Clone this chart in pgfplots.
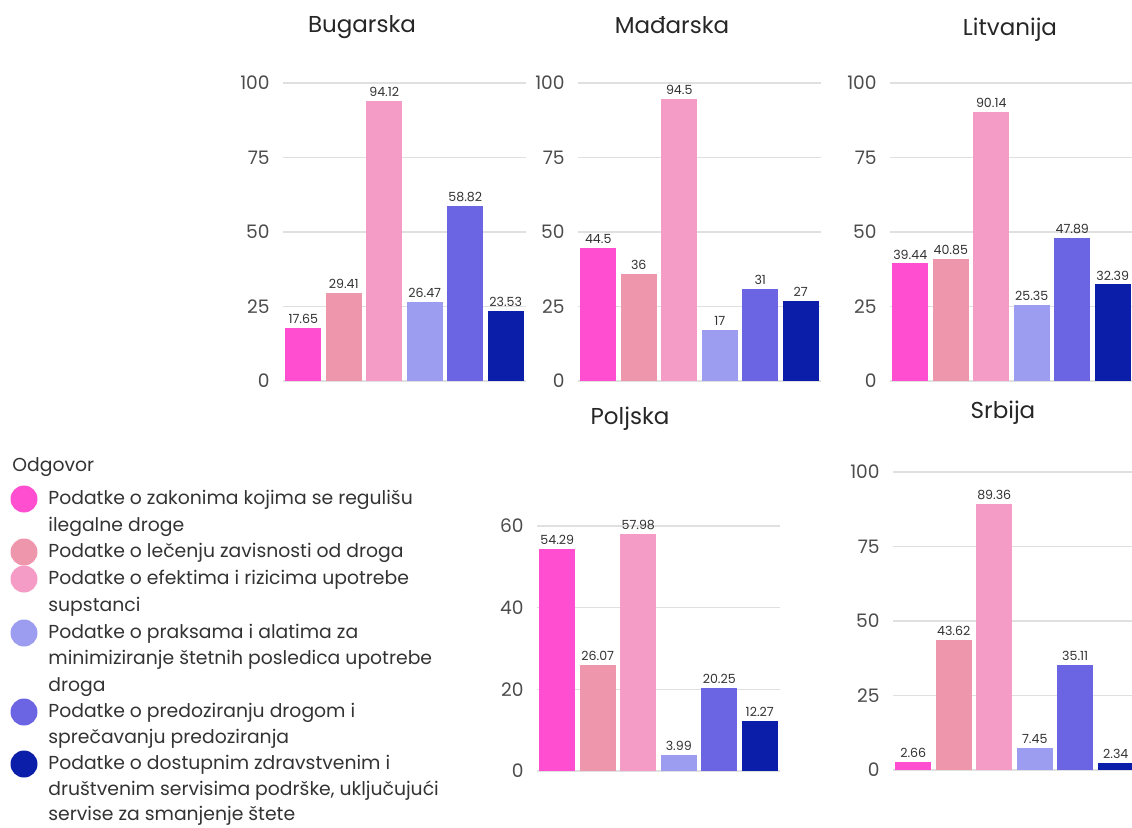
\documentclass[border=0pt]{standalone}
\usepackage{fontspec}
\setmainfont{Poppins}
\usepackage{pgfplots}
\pgfplotsset{compat=1.18}

\definecolor{c1}{HTML}{FF4FD0}
\definecolor{c2}{HTML}{EE97AC}
\definecolor{c3}{HTML}{F49CC6}
\definecolor{c4}{HTML}{9C9CF0}
\definecolor{c5}{HTML}{6B64E3}
\definecolor{c6}{HTML}{0A1EAA}
\definecolor{txt}{HTML}{333333}

\pgfplotsset{
  panel/.style={
    scale only axis, anchor=south west,
    width=121.5pt, height=149pt,
    xmin=-0.5, xmax=5.5, ymin=0, ymax=100,
    ytick={0,25,50,75,100},
    xtick=\empty,
    ymajorgrids, grid style={draw=black!12, line width=0.6pt},
    axis line style={draw=none},
    major tick length=0pt,
    /pgf/number format/assume math mode=true,
    yticklabel style={font=\fontsize{9.3}{10}\selectfont, text=black!70, anchor=east, inner sep=0pt, xshift=-6.5pt},
    nodes near coords,
    every node near coord/.append style={font=\fontsize{6.3}{7}\selectfont, text=txt, inner sep=2pt},
    clip=false,
  },
  b/.style={ybar, bar width=0.89, bar shift=0pt, draw=none, fill=#1},
}

\begin{document}
\begin{tikzpicture}[x=0.5pt, y=-0.5pt]
\path[use as bounding box] (0,0) rectangle (1132,827);

% Bugarska
\begin{axis}[panel, at={(141.5pt,-190.5pt)}]
\addplot[b=c1] coordinates {(0,17.65)};
\addplot[b=c2] coordinates {(1,29.41)};
\addplot[b=c3] coordinates {(2,94.12)};
\addplot[b=c4] coordinates {(3,26.47)};
\addplot[b=c5] coordinates {(4,58.82)};
\addplot[b=c6] coordinates {(5,23.53)};
\end{axis}

% Madjarska
\begin{axis}[panel, at={(289pt,-190.5pt)}]
\addplot[b=c1] coordinates {(0,44.5)};
\addplot[b=c2] coordinates {(1,36)};
\addplot[b=c3] coordinates {(2,94.5)};
\addplot[b=c4] coordinates {(3,17)};
\addplot[b=c5] coordinates {(4,31)};
\addplot[b=c6] coordinates {(5,27)};
\end{axis}

% Litvanija
\begin{axis}[panel, at={(445pt,-190.5pt)}]
\addplot[b=c1] coordinates {(0,39.44)};
\addplot[b=c2] coordinates {(1,40.85)};
\addplot[b=c3] coordinates {(2,90.14)};
\addplot[b=c4] coordinates {(3,25.35)};
\addplot[b=c5] coordinates {(4,47.89)};
\addplot[b=c6] coordinates {(5,32.39)};
\end{axis}

% Poljska
\begin{axis}[panel, at={(268.5pt,-385.5pt)}, height=122.5pt, ymax=60, ytick={0,20,40,60}]
\addplot[b=c1] coordinates {(0,54.29)};
\addplot[b=c2] coordinates {(1,26.07)};
\addplot[b=c3] coordinates {(2,57.98)};
\addplot[b=c4] coordinates {(3,3.99)};
\addplot[b=c5] coordinates {(4,20.25)};
\addplot[b=c6] coordinates {(5,12.27)};
\end{axis}

% Srbija
\begin{axis}[panel, at={(446.5pt,-385pt)}]
\addplot[b=c1] coordinates {(0,2.66)};
\addplot[b=c2] coordinates {(1,43.62)};
\addplot[b=c3] coordinates {(2,89.36)};
\addplot[b=c4] coordinates {(3,7.45)};
\addplot[b=c5] coordinates {(4,35.11)};
\addplot[b=c6] coordinates {(5,2.34)};
\end{axis}

% titles
\begin{scope}[every node/.style={font=\fontsize{11.5}{13}\selectfont, text=black!85}]
\node at (362,27) {Bugarska};
\node at (672,25) {Mađarska};
\node at (1010,30) {Litvanija};
\node at (630,419) {Poljska};
\node at (1003,413) {Srbija};
\end{scope}

% legend
\begin{scope}[every node/.style={font=\fontsize{9.4}{11}\selectfont, text=txt, anchor=mid west, inner sep=0pt}]
\node at (12,466) {Odgovor};
\node at (48,499) {Podatke o zakonima kojima se regulišu};
\node at (48,526) {ilegalne droge};
\node at (48,552) {Podatke o lečenju zavisnosti od droga};
\node at (48,579) {Podatke o efektima i rizicima upotrebe};
\node at (48,606) {supstanci};
\node at (48,633) {Podatke o praksama i alatima za};
\node at (48,659) {minimiziranje štetnih posledica upotrebe};
\node at (48,686) {droga};
\node at (48,712) {Podatke o predoziranju drogom i};
\node at (48,738) {sprečavanju predoziranja};
\node at (48,764) {Podatke o dostupnim zdravstvenim i};
\node at (48,790) {društvenim servisima podrške, uključujući};
\node at (48,815) {servise za smanjenje štete};
\end{scope}
\fill[c1] (24,499) circle[radius=6.75pt];
\fill[c2] (24,552) circle[radius=6.75pt];
\fill[c3] (24,579) circle[radius=6.75pt];
\fill[c4] (24,633) circle[radius=6.75pt];
\fill[c5] (24,712) circle[radius=6.75pt];
\fill[c6] (24,764) circle[radius=6.75pt];
\end{tikzpicture}
\end{document}
